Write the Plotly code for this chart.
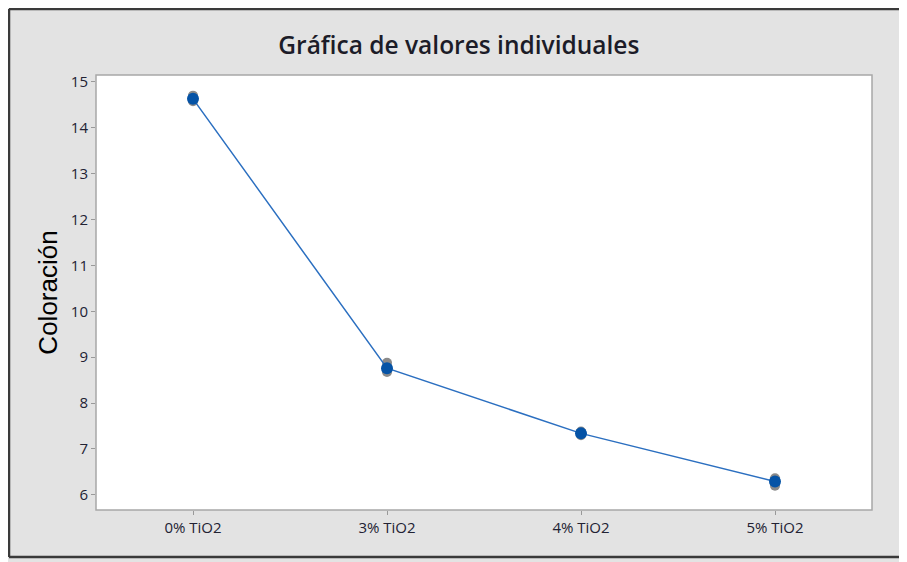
import plotly.graph_objects as go

categories = ["0% TiO2", "3% TiO2", "4% TiO2", "5% TiO2"]
individual_values = [
    [14.70, 14.65, 14.60, 14.58],
    [8.88, 8.78, 8.72, 8.68],
    [7.38, 7.35, 7.32, 7.30],
    [6.36, 6.30, 6.25, 6.20],
]
mean_values = [14.63, 8.76, 7.34, 6.29]
y_ticks = [6, 7, 8, 9, 10, 11, 12, 13, 14, 15]

fig = go.Figure()

ind_x = []
ind_y = []
for c, vals in zip(categories, individual_values):
    for v in vals:
        ind_x.append(c)
        ind_y.append(v)

fig.add_trace(go.Scatter(
    x=ind_x, y=ind_y, mode="markers",
    marker=dict(color="#8a8a8a", size=10, line=dict(width=0)),
    showlegend=False, hoverinfo="skip",
))
fig.add_trace(go.Scatter(
    x=categories, y=mean_values, mode="lines+markers",
    line=dict(color="#2b6fc0", width=1.5),
    marker=dict(color="#0553a6", size=12, line=dict(width=0)),
    showlegend=False,
))

border = dict(color="#3a3a3a", width=2.5)
x_left, x_right, y_bot, y_top = -0.1121, 1.2, -0.108, 1.1517

# The page adds an 8px body margin, so the figure is 8px smaller than the window.
fig.update_layout(
    width=891, height=554,
    margin=dict(l=88, r=27, t=67, b=52),
    paper_bgcolor="#e3e3e3",
    plot_bgcolor="rgba(0,0,0,0)",
    title=dict(text="Gráfica de valores individuales", x=0.506, xanchor="center",
               y=0.933, yanchor="middle",
               font=dict(family="Open Sans", size=24.5, color="#1c1c28", weight=600)),
    shapes=[
        dict(type="rect", xref="paper", yref="paper", layer="below",
             x0=x_left, x1=x_right, y0=y_bot, y1=y_top,
             fillcolor="#e3e3e3", line=dict(width=0)),
        dict(type="line", xref="paper", yref="paper", layer="below",
             x0=x_left, x1=x_left, y0=y_bot, y1=y_top, line=border),
        dict(type="line", xref="paper", yref="paper", layer="below",
             x0=x_left, x1=x_right, y0=y_top, y1=y_top, line=border),
        dict(type="line", xref="paper", yref="paper", layer="below",
             x0=x_left, x1=x_right, y0=y_bot, y1=y_bot, line=border),
        dict(type="rect", xref="paper", yref="paper", layer="below",
             x0=0, x1=1, y0=0, y1=1,
             fillcolor="white", line=dict(color="#a8a8a8", width=1.5)),
    ],
    xaxis=dict(
        type="category", range=[-0.5, 3.5],
        showline=False, showgrid=False, zeroline=False,
        ticks="outside", ticklen=4, tickcolor="#999999", tickwidth=1,
        tickfont=dict(family="Open Sans", size=15, color="#222233"),
    ),
    yaxis=dict(
        range=[5.67, 15.15], tickvals=y_ticks,
        showline=False, showgrid=False, zeroline=False,
        ticks="outside", ticklen=4, tickcolor="#999999", tickwidth=1,
        tickfont=dict(family="Open Sans", size=15, color="#222233"),
        title=dict(text="Coloración", standoff=5,
                   font=dict(family="Liberation Sans", size=26, color="black")),
    ),
)

fig.write_html("out.html")
